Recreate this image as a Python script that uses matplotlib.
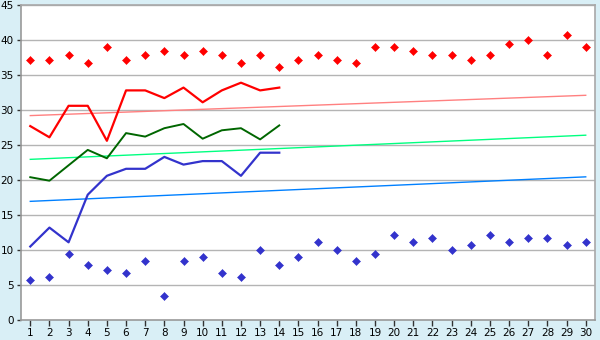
import matplotlib
matplotlib.use("Agg")
import matplotlib.pyplot as plt
import numpy as np

days = list(range(1, 31))
line_days = list(range(1, 15))

red_points = [37.2, 37.2, 37.8, 36.7, 39.0, 37.2, 37.8, 38.4, 37.8, 38.4,
              37.8, 36.7, 37.8, 36.1, 37.2, 37.8, 37.2, 36.7, 39.0, 39.0,
              38.4, 37.8, 37.8, 37.2, 37.8, 39.4, 40.0, 37.8, 40.7, 39.0]
blue_points = [5.7, 6.1, 9.4, 7.8, 7.2, 6.7, 8.4, 3.4, 8.4, 9.0,
               6.7, 6.1, 10.0, 7.8, 9.0, 11.1, 10.0, 8.4, 9.4, 12.2,
               11.1, 11.7, 10.0, 10.7, 12.2, 11.1, 11.7, 11.7, 10.7, 11.1]

red_line = [27.7, 26.1, 30.6, 30.6, 25.6, 32.8, 32.8, 31.7, 33.2, 31.1,
            32.8, 33.9, 32.8, 33.2]
green_line = [20.4, 19.9, 22.1, 24.3, 23.1, 26.7, 26.2, 27.4, 28.0, 25.9,
              27.1, 27.4, 25.8, 27.8]
blue_line = [10.5, 13.2, 11.1, 17.9, 20.6, 21.6, 21.6, 23.3, 22.2, 22.7,
             22.7, 20.6, 23.9, 23.9]

trend_x = [1, 30]
red_trend = [29.2, 32.1]
green_trend = [22.95, 26.4]
blue_trend = [16.95, 20.45]

y_ticks = list(range(0, 46, 5))

bg = "#D9EFF6"
fig = plt.figure(figsize=(6, 3.4), dpi=100, facecolor=bg)
ax = fig.add_axes([20.7/600, 20/340, (595.3-20.7)/600, 315/340])
ax.set_facecolor("white")

for y in y_ticks[1:]:
    ax.axhline(y, color="#B4B4B4", lw=1, zorder=1)

ax.plot(trend_x, red_trend, color="#FF8080", lw=1, zorder=2)
ax.plot(trend_x, green_trend, color="#00FF80", lw=1, zorder=2)
ax.plot(trend_x, blue_trend, color="#0080FF", lw=1, zorder=2)

ax.plot(line_days, red_line, color="#FF0000", lw=1.6, zorder=3)
ax.plot(line_days, green_line, color="#006600", lw=1.4, zorder=3)
ax.plot(line_days, blue_line, color="#3333CC", lw=1.6, zorder=3)

ax.plot(days, red_points, ls="none", marker="D", ms=3.6, color="#FF0000",
        mec="#FF0000", mew=0.4, zorder=4)
ax.plot(days, blue_points, ls="none", marker="D", ms=3.6, color="#3333CC",
        mec="#3333CC", mew=0.4, zorder=4)

ax.set_xlim(0.5, 30.5)
ax.set_ylim(0, 45)
ax.set_xticks(days)
ax.set_yticks(y_ticks)
ax.tick_params(axis="both", labelsize=7.5, colors="#333333", length=4,
               width=1, direction="out", pad=2)
ax.tick_params(axis="y", length=3)
for lab in ax.get_xticklabels() + ax.get_yticklabels():
    lab.set_color("black")
for s in ax.spines.values():
    s.set_color("#A8A8A8")
    s.set_linewidth(1.2)
ax.spines["left"].set_color("#999999")
ax.spines["bottom"].set_color("#999999")

fig.savefig("out.png", dpi=100, facecolor=bg)
